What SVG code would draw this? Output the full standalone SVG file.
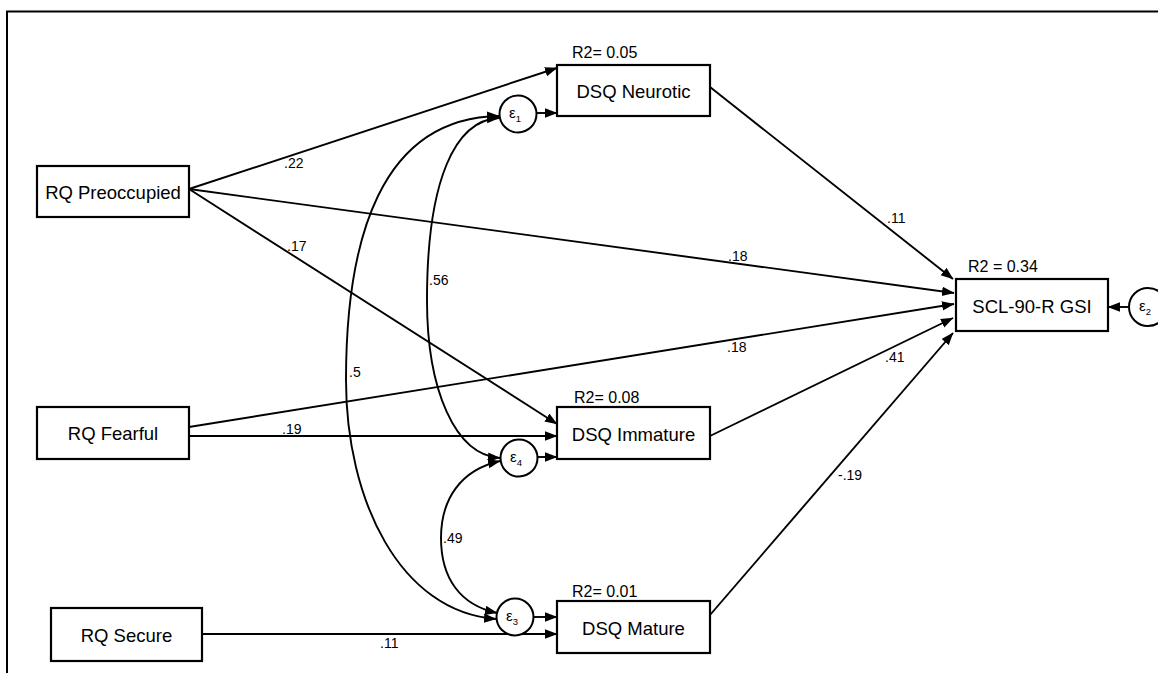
<svg xmlns="http://www.w3.org/2000/svg" width="1158" height="673" viewBox="0 0 1158 673">
<defs>
<style>
.box{fill:#fff;stroke:#000;stroke-width:2.2}
.circ{fill:#fff;stroke:#000;stroke-width:2}
.ln{fill:none;stroke:#000;stroke-width:1.9;marker-end:url(#ah)}
.cv{fill:none;stroke:#000;stroke-width:1.9;marker-end:url(#ah);marker-start:url(#ah)}
.lbl{font-family:"Liberation Sans",Arial,sans-serif;font-size:18.5px;fill:#000;text-anchor:middle}
.r2{font-family:"Liberation Sans",Arial,sans-serif;font-size:16px;fill:#000}
.cf{font-family:"Liberation Sans",Arial,sans-serif;font-size:14px;fill:#000}
.eps{font-family:"Liberation Sans",Arial,sans-serif;font-size:15px;fill:#000;text-anchor:middle}
</style>
<marker id="ah" markerUnits="userSpaceOnUse" markerWidth="13" markerHeight="10" refX="12" refY="4.75" orient="auto-start-reverse">
<path d="M0,0 L12.5,4.75 L0,9.5 z" fill="#000"/>
</marker>
</defs>
<rect width="1158" height="673" fill="#fff"/>
<g id="frame" fill="none" stroke="#000" stroke-width="2">
<path d="M7,673 L7,11.5 L1158,11.5"/>
</g>
<g id="connectors">
<line class="ln" x1="189" y1="189" x2="557" y2="68"/>
<line class="ln" x1="189" y1="189" x2="954" y2="293"/>
<line class="ln" x1="189" y1="189" x2="557" y2="424"/>
<line class="ln" x1="189" y1="427" x2="954" y2="304"/>
<line class="ln" x1="189" y1="436" x2="557" y2="436"/>
<line class="ln" x1="202" y1="634" x2="557" y2="634"/>
<line class="ln" x1="536.5" y1="113" x2="557" y2="113"/>
<line class="ln" x1="537.5" y1="457" x2="557" y2="457"/>
<line class="ln" x1="533.5" y1="617" x2="557" y2="617"/>
<line class="ln" x1="710" y1="87" x2="953" y2="279"/>
<line class="ln" x1="710" y1="436" x2="953" y2="318"/>
<line class="ln" x1="710" y1="615" x2="953" y2="333"/>
<line class="ln" x1="1129" y1="307" x2="1108" y2="307"/>
<path class="cv" d="M499,116 C380,118 346,240 346,380 C346,500 400,612 496,619"/>
<path class="cv" d="M499,118 C455,120 427,180 427,300 C427,390 455,455 500,458"/>
<path class="cv" d="M500,461 C460,470 441,500 441,538 C441,578 460,605 497,613"/>
</g>
<g id="labels">
<text class="cf" x="284" y="168">.22</text>
<text class="cf" x="287" y="251">.17</text>
<text class="cf" x="728" y="261">.18</text>
<text class="cf" x="727" y="352">.18</text>
<text class="cf" x="887" y="223">.11</text>
<text class="cf" x="885" y="362">.41</text>
<text class="cf" x="838" y="480">-.19</text>
<text class="cf" x="429" y="285">.56</text>
<text class="cf" x="349" y="377">.5</text>
<text class="cf" x="443" y="543">.49</text>
<text class="cf" x="282" y="434">.19</text>
<text class="cf" x="380" y="648">.11</text>
</g>
<g id="rq-preoccupied">
<rect class="box" x="37" y="166" width="152" height="51"/>
<text class="lbl" x="113" y="199">RQ Preoccupied</text>
</g>
<g id="rq-fearful">
<rect class="box" x="37" y="407" width="152" height="52"/>
<text class="lbl" x="113" y="440">RQ Fearful</text>
</g>
<g id="rq-secure">
<rect class="box" x="51" y="608" width="151" height="53"/>
<text class="lbl" x="126.5" y="642">RQ Secure</text>
</g>
<g id="dsq-neurotic">
<rect class="box" x="557" y="65" width="153" height="51"/>
<text class="lbl" x="633.5" y="98">DSQ Neurotic</text>
<text class="r2" x="572" y="58">R2= 0.05</text>
</g>
<g id="dsq-immature">
<rect class="box" x="557" y="407" width="153" height="52"/>
<text class="lbl" x="633.5" y="441">DSQ Immature</text>
<text class="r2" x="574" y="403">R2= 0.08</text>
</g>
<g id="dsq-mature">
<rect class="box" x="557" y="601" width="153" height="52"/>
<text class="lbl" x="633.5" y="635">DSQ Mature</text>
<text class="r2" x="572" y="597">R2= 0.01</text>
</g>
<g id="scl-gsi">
<rect class="box" x="956" y="279" width="152" height="52"/>
<text class="lbl" x="1032" y="313">SCL-90-R GSI</text>
<text class="r2" x="968" y="272">R2 = 0.34</text>
</g>
<g id="e1">
<circle class="circ" cx="518" cy="114" r="18.5"/>
<text class="eps" x="515" y="118">ε<tspan font-size="9.5" dy="4">1</tspan></text>
</g>
<g id="e4">
<circle class="circ" cx="519" cy="458" r="18.5"/>
<text class="eps" x="516" y="462">ε<tspan font-size="9.5" dy="4">4</tspan></text>
</g>
<g id="e3">
<circle class="circ" cx="515" cy="617" r="18.5"/>
<text class="eps" x="512" y="621">ε<tspan font-size="9.5" dy="4">3</tspan></text>
</g>
<g id="e2">
<circle class="circ" cx="1148" cy="307" r="19"/>
<text class="eps" x="1145" y="311">ε<tspan font-size="9.5" dy="4">2</tspan></text>
</g>
</svg>
